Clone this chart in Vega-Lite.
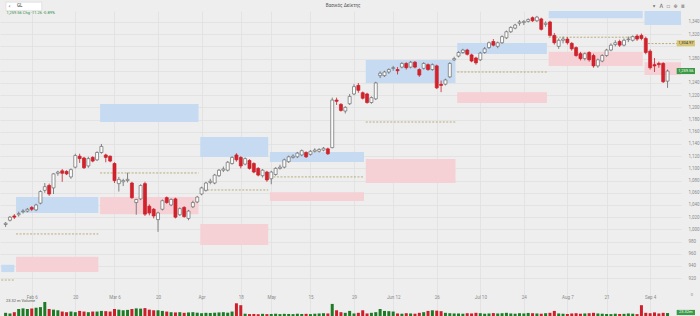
{
  "$schema": "https://vega.github.io/schema/vega-lite/v6.json",
  "width": 681,
  "height": 305,
  "autosize": {"type": "none"},
  "padding": {"left": 0, "top": 11, "right": 19, "bottom": 0},
  "background": "#eeeeee",
  "config": {
    "view": {"stroke": null},
    "axis": {"domain": false, "ticks": false, "tickSize": 0, "labelOverlap": false, "labelFlush": false, "labelBound": false, "labelFont": "Roboto", "labelFontSize": 4.5, "labelColor": "#8a8a8a", "gridColor": "#dedede", "gridWidth": 0.7}
  },
  "datasets": {
    "k": [
      {"i":0,"o":1008,"h":1012,"l":1004,"c":1010,"v":25},
      {"i":1,"o":1015,"h":1022,"l":1013,"c":1020,"v":20},
      {"i":2,"o":1022,"h":1025,"l":1017,"c":1020,"v":30},
      {"i":3,"o":1024,"h":1029,"l":1021,"c":1026,"v":55},
      {"i":4,"o":1029,"h":1033,"l":1026,"c":1030,"v":60},
      {"i":5,"o":1030,"h":1035,"l":1028,"c":1033,"v":55},
      {"i":6,"o":1036,"h":1038,"l":1030,"c":1033,"v":60},
      {"i":7,"o":1032,"h":1042,"l":1030,"c":1040,"v":65},
      {"i":8,"o":1043,"h":1064,"l":1041,"c":1062,"v":70},
      {"i":9,"o":1064,"h":1076,"l":1060,"c":1070,"v":110},
      {"i":10,"o":1072,"h":1075,"l":1055,"c":1058,"v":55},
      {"i":11,"o":1068,"h":1092,"l":1058,"c":1091,"v":50},
      {"i":12,"o":1092,"h":1096,"l":1088,"c":1094,"v":45},
      {"i":13,"o":1096,"h":1099,"l":1078,"c":1092,"v":35},
      {"i":14,"o":1095,"h":1097,"l":1089,"c":1091,"v":30},
      {"i":15,"o":1086,"h":1100,"l":1083,"c":1098,"v":35},
      {"i":16,"o":1102,"h":1124,"l":1100,"c":1121,"v":30},
      {"i":17,"o":1120,"h":1124,"l":1109,"c":1116,"v":40},
      {"i":18,"o":1117,"h":1119,"l":1099,"c":1101,"v":35},
      {"i":19,"o":1104,"h":1119,"l":1101,"c":1116,"v":30},
      {"i":20,"o":1118,"h":1120,"l":1110,"c":1112,"v":35},
      {"i":21,"o":1114,"h":1128,"l":1112,"c":1126,"v":35},
      {"i":22,"o":1126,"h":1140,"l":1124,"c":1136,"v":40},
      {"i":23,"o":1122,"h":1124,"l":1110,"c":1118,"v":38},
      {"i":24,"o":1120,"h":1121,"l":1110,"c":1112,"v":35},
      {"i":25,"o":1108,"h":1110,"l":1076,"c":1080,"v":55},
      {"i":26,"o":1075,"h":1086,"l":1062,"c":1082,"v":50},
      {"i":27,"o":1078,"h":1083,"l":1071,"c":1080,"v":45},
      {"i":28,"o":1080,"h":1093,"l":1077,"c":1082,"v":48},
      {"i":29,"o":1076,"h":1078,"l":1050,"c":1052,"v":55},
      {"i":30,"o":1044,"h":1050,"l":1024,"c":1049,"v":60},
      {"i":31,"o":1050,"h":1074,"l":1048,"c":1072,"v":58},
      {"i":32,"o":1075,"h":1078,"l":1022,"c":1025,"v":62},
      {"i":33,"o":1038,"h":1041,"l":1023,"c":1027,"v":50},
      {"i":34,"o":1033,"h":1035,"l":1018,"c":1022,"v":45},
      {"i":35,"o":1016,"h":1029,"l":996,"c":1027,"v":45},
      {"i":36,"o":1033,"h":1049,"l":1031,"c":1047,"v":40},
      {"i":37,"o":1052,"h":1054,"l":1042,"c":1044,"v":35},
      {"i":38,"o":1040,"h":1051,"l":1038,"c":1049,"v":30},
      {"i":39,"o":1050,"h":1052,"l":1018,"c":1020,"v":28},
      {"i":40,"o":1024,"h":1036,"l":1022,"c":1034,"v":30},
      {"i":41,"o":1036,"h":1038,"l":1019,"c":1021,"v":25},
      {"i":42,"o":1018,"h":1032,"l":1015,"c":1030,"v":28},
      {"i":43,"o":1037,"h":1047,"l":1035,"c":1044,"v":30},
      {"i":44,"o":1045,"h":1055,"l":1043,"c":1053,"v":26},
      {"i":45,"o":1058,"h":1070,"l":1056,"c":1068,"v":22},
      {"i":46,"o":1064,"h":1078,"l":1062,"c":1076,"v":25},
      {"i":47,"o":1077,"h":1083,"l":1074,"c":1079,"v":24},
      {"i":48,"o":1076,"h":1091,"l":1074,"c":1089,"v":26},
      {"i":49,"o":1088,"h":1099,"l":1086,"c":1097,"v":28},
      {"i":50,"o":1097,"h":1103,"l":1094,"c":1099,"v":30},
      {"i":51,"o":1097,"h":1112,"l":1095,"c":1110,"v":26},
      {"i":52,"o":1108,"h":1120,"l":1106,"c":1118,"v":35},
      {"i":53,"o":1122,"h":1125,"l":1111,"c":1114,"v":100},
      {"i":54,"o":1118,"h":1120,"l":1100,"c":1104,"v":85},
      {"i":55,"o":1107,"h":1118,"l":1105,"c":1116,"v":18},
      {"i":56,"o":1113,"h":1115,"l":1098,"c":1100,"v":15},
      {"i":57,"o":1108,"h":1110,"l":1092,"c":1094,"v":16},
      {"i":58,"o":1100,"h":1102,"l":1087,"c":1089,"v":14},
      {"i":59,"o":1088,"h":1099,"l":1085,"c":1097,"v":17},
      {"i":60,"o":1094,"h":1096,"l":1078,"c":1081,"v":15},
      {"i":61,"o":1083,"h":1096,"l":1074,"c":1094,"v":16},
      {"i":62,"o":1090,"h":1102,"l":1088,"c":1100,"v":18},
      {"i":63,"o":1100,"h":1106,"l":1098,"c":1102,"v":15},
      {"i":64,"o":1102,"h":1116,"l":1100,"c":1114,"v":17},
      {"i":65,"o":1111,"h":1121,"l":1109,"c":1119,"v":16},
      {"i":66,"o":1118,"h":1123,"l":1116,"c":1120,"v":15},
      {"i":67,"o":1119,"h":1127,"l":1117,"c":1125,"v":18},
      {"i":68,"o":1122,"h":1131,"l":1120,"c":1129,"v":16},
      {"i":69,"o":1126,"h":1128,"l":1117,"c":1119,"v":17},
      {"i":70,"o":1123,"h":1130,"l":1121,"c":1128,"v":15},
      {"i":71,"o":1128,"h":1133,"l":1126,"c":1130,"v":18},
      {"i":72,"o":1128,"h":1133,"l":1126,"c":1131,"v":20},
      {"i":73,"o":1130,"h":1135,"l":1128,"c":1133,"v":22},
      {"i":74,"o":1132,"h":1134,"l":1122,"c":1124,"v":20},
      {"i":75,"o":1134,"h":1216,"l":1133,"c":1212,"v":95},
      {"i":76,"o":1212,"h":1216,"l":1204,"c":1210,"v":45},
      {"i":77,"o":1205,"h":1207,"l":1193,"c":1195,"v":30},
      {"i":78,"o":1194,"h":1202,"l":1190,"c":1200,"v":25},
      {"i":79,"o":1206,"h":1222,"l":1204,"c":1218,"v":40},
      {"i":80,"o":1222,"h":1238,"l":1220,"c":1234,"v":20},
      {"i":81,"o":1236,"h":1240,"l":1224,"c":1228,"v":25},
      {"i":82,"o":1224,"h":1226,"l":1213,"c":1215,"v":45},
      {"i":83,"o":1222,"h":1224,"l":1206,"c":1208,"v":20},
      {"i":84,"o":1208,"h":1218,"l":1206,"c":1216,"v":25},
      {"i":85,"o":1214,"h":1242,"l":1212,"c":1240,"v":30},
      {"i":86,"o":1252,"h":1259,"l":1248,"c":1256,"v":55},
      {"i":87,"o":1252,"h":1260,"l":1250,"c":1258,"v":40},
      {"i":88,"o":1258,"h":1264,"l":1255,"c":1262,"v":38},
      {"i":89,"o":1264,"h":1268,"l":1260,"c":1265,"v":35},
      {"i":90,"o":1262,"h":1266,"l":1254,"c":1260,"v":20},
      {"i":91,"o":1266,"h":1274,"l":1264,"c":1272,"v":18},
      {"i":92,"o":1272,"h":1274,"l":1262,"c":1265,"v":22},
      {"i":93,"o":1266,"h":1276,"l":1264,"c":1274,"v":20},
      {"i":94,"o":1274,"h":1276,"l":1264,"c":1266,"v":18},
      {"i":95,"o":1262,"h":1264,"l":1250,"c":1253,"v":25},
      {"i":96,"o":1264,"h":1274,"l":1262,"c":1272,"v":30},
      {"i":97,"o":1270,"h":1272,"l":1260,"c":1262,"v":40},
      {"i":98,"o":1262,"h":1272,"l":1260,"c":1270,"v":45},
      {"i":99,"o":1268,"h":1270,"l":1230,"c":1232,"v":42},
      {"i":100,"o":1238,"h":1244,"l":1225,"c":1236,"v":38},
      {"i":101,"o":1238,"h":1247,"l":1236,"c":1245,"v":25},
      {"i":102,"o":1250,"h":1274,"l":1248,"c":1272,"v":22},
      {"i":103,"o":1278,"h":1283,"l":1276,"c":1280,"v":20},
      {"i":104,"o":1284,"h":1292,"l":1282,"c":1290,"v":20},
      {"i":105,"o":1290,"h":1296,"l":1288,"c":1294,"v":18},
      {"i":106,"o":1294,"h":1296,"l":1285,"c":1287,"v":22},
      {"i":107,"o":1286,"h":1288,"l":1274,"c":1276,"v":20},
      {"i":108,"o":1281,"h":1283,"l":1270,"c":1273,"v":25},
      {"i":109,"o":1278,"h":1291,"l":1276,"c":1289,"v":22},
      {"i":110,"o":1290,"h":1299,"l":1288,"c":1296,"v":18},
      {"i":111,"o":1298,"h":1308,"l":1296,"c":1306,"v":20},
      {"i":112,"o":1308,"h":1312,"l":1300,"c":1302,"v":23},
      {"i":113,"o":1300,"h":1308,"l":1297,"c":1306,"v":20},
      {"i":114,"o":1306,"h":1318,"l":1304,"c":1316,"v":22},
      {"i":115,"o":1314,"h":1326,"l":1312,"c":1324,"v":25},
      {"i":116,"o":1324,"h":1333,"l":1322,"c":1331,"v":20},
      {"i":117,"o":1330,"h":1337,"l":1328,"c":1335,"v":18},
      {"i":118,"o":1338,"h":1343,"l":1334,"c":1340,"v":22},
      {"i":119,"o":1339,"h":1343,"l":1335,"c":1341,"v":20},
      {"i":120,"o":1341,"h":1346,"l":1339,"c":1344,"v":24},
      {"i":121,"o":1347,"h":1349,"l":1340,"c":1342,"v":22},
      {"i":122,"o":1342,"h":1350,"l":1340,"c":1348,"v":20},
      {"i":123,"o":1345,"h":1347,"l":1326,"c":1328,"v":18},
      {"i":124,"o":1336,"h":1341,"l":1332,"c":1338,"v":22},
      {"i":125,"o":1340,"h":1342,"l":1316,"c":1318,"v":25},
      {"i":126,"o":1318,"h":1322,"l":1303,"c":1306,"v":40},
      {"i":127,"o":1300,"h":1313,"l":1296,"c":1310,"v":20},
      {"i":128,"o":1310,"h":1316,"l":1305,"c":1312,"v":18},
      {"i":129,"o":1312,"h":1315,"l":1303,"c":1306,"v":16},
      {"i":130,"o":1305,"h":1307,"l":1293,"c":1296,"v":20},
      {"i":131,"o":1298,"h":1300,"l":1283,"c":1285,"v":22},
      {"i":132,"o":1288,"h":1291,"l":1277,"c":1280,"v":18},
      {"i":133,"o":1280,"h":1290,"l":1277,"c":1288,"v":20},
      {"i":134,"o":1290,"h":1292,"l":1275,"c":1278,"v":22},
      {"i":135,"o":1285,"h":1288,"l":1265,"c":1268,"v":25},
      {"i":136,"o":1268,"h":1280,"l":1265,"c":1278,"v":20},
      {"i":137,"o":1276,"h":1287,"l":1274,"c":1285,"v":18},
      {"i":138,"o":1285,"h":1296,"l":1283,"c":1294,"v":16},
      {"i":139,"o":1294,"h":1305,"l":1292,"c":1302,"v":15},
      {"i":140,"o":1303,"h":1310,"l":1300,"c":1306,"v":18},
      {"i":141,"o":1308,"h":1311,"l":1299,"c":1302,"v":16},
      {"i":142,"o":1302,"h":1313,"l":1300,"c":1310,"v":17},
      {"i":143,"o":1311,"h":1316,"l":1307,"c":1312,"v":20},
      {"i":144,"o":1310,"h":1318,"l":1308,"c":1316,"v":18},
      {"i":145,"o":1317,"h":1320,"l":1309,"c":1312,"v":15},
      {"i":146,"o":1318,"h":1321,"l":1310,"c":1313,"v":85},
      {"i":147,"o":1313,"h":1316,"l":1287,"c":1290,"v":25},
      {"i":148,"o":1292,"h":1295,"l":1262,"c":1265,"v":22},
      {"i":149,"o":1270,"h":1281,"l":1258,"c":1268,"v":28},
      {"i":150,"o":1272,"h":1275,"l":1265,"c":1270,"v":20},
      {"i":151,"o":1272,"h":1274,"l":1240,"c":1242,"v":25},
      {"i":152,"o":1243,"h":1262,"l":1232,"c":1259.56,"v":23.32}
    ],
    "z": [
      {"k":"R","x0":-1,"x1":2.0,"t":942,"b":930},
      {"k":"R","x0":2.4,"x1":21.3,"t":1053,"b":1027},
      {"k":"S","x0":2.4,"x1":21.3,"t":955,"b":930},
      {"k":"R","x0":21.7,"x1":44.3,"t":1205.6,"b":1176},
      {"k":"S","x0":21.7,"x1":44.3,"t":1053,"b":1025},
      {"k":"R","x0":44.7,"x1":60.3,"t":1151.5,"b":1118.7},
      {"k":"S","x0":44.7,"x1":60.3,"t":1009,"b":974.5},
      {"k":"R","x0":60.7,"x1":82.3,"t":1127,"b":1110.5},
      {"k":"S","x0":60.7,"x1":82.3,"t":1061,"b":1046.6},
      {"k":"R","x0":82.7,"x1":103.3,"t":1277.7,"b":1240},
      {"k":"S","x0":82.7,"x1":103.3,"t":1115.4,"b":1076},
      {"k":"R","x0":103.7,"x1":124.3,"t":1305.5,"b":1287.5},
      {"k":"S","x0":103.7,"x1":124.3,"t":1225,"b":1207},
      {"k":"R","x0":124.7,"x1":146.3,"t":1370,"b":1346},
      {"k":"S","x0":124.7,"x1":146.3,"t":1291,"b":1268},
      {"k":"R","x0":146.7,"x1":160,"t":1370,"b":1335},
      {"k":"S","x0":146.7,"x1":160,"t":1274,"b":1253}
    ],
    "p": [
      {"x0":-1,"x1":2.0,"p":917},
      {"x0":2.4,"x1":21.3,"p":992.5},
      {"x0":21.7,"x1":44.3,"p":1092.5},
      {"x0":44.7,"x1":60.3,"p":1064.6},
      {"x0":60.7,"x1":82.3,"p":1086},
      {"x0":82.7,"x1":103.3,"p":1176},
      {"x0":103.7,"x1":124.3,"p":1258},
      {"x0":124.7,"x1":146.3,"p":1315},
      {"x0":146.7,"x1":160,"p":1304.6}
    ]
  },
  "layer": [
    {
      "layer": [
        {
          "data": {"name": "z"},
          "mark": {"type": "rect", "clip": true},
          "encoding": {
            "x": {"field": "x0", "type": "quantitative", "title": null,
              "scale": {"domain": [-0.14, 153.94], "nice": false, "zero": false},
              "axis": {"orient": "bottom", "offset": -23, "labelPadding": 1, "tickCount": 40, "labelOverlap": false, "labelFlush": false, "labelBound": false, "grid": true,
                "values": [6,16,25,35,45,54,61,70,80,89,99,109,119,129,138,148],
                "labelExpr": "datum.value==6?'Feb 6':datum.value==16?'20':datum.value==25?'Mar 6':datum.value==35?'20':datum.value==45?'Apr':datum.value==54?'18':datum.value==61?'May':datum.value==70?'15':datum.value==80?'29':datum.value==89?'Jun 12':datum.value==99?'26':datum.value==109?'Jul 10':datum.value==119?'24':datum.value==129?'Aug 7':datum.value==138?'21':'Sep 4'"}},
            "x2": {"field": "x1"},
            "y": {"field": "t", "type": "quantitative", "title": null,
              "scale": {"domain": [858, 1358], "nice": false, "zero": false},
              "axis": {"orient": "right", "labelPadding": 7, "tickCount": 40, "labelOverlap": false, "labelFlush": false, "labelBound": false, "grid": true, "format": ",d",
                "labelExpr": "datum.value==1260||datum.value==1300?'':datum.label",
                "values": [920,940,960,980,1000,1020,1040,1060,1080,1100,1120,1140,1160,1180,1200,1220,1240,1260,1280,1300,1320,1340]}},
            "y2": {"field": "b"},
            "color": {"field": "k", "type": "nominal", "legend": null, "scale": {"domain": ["R", "S"], "range": ["#c6dbf1", "#f5d1d5"]}}
          }
        },
        {
          "data": {"name": "p"},
          "mark": {"type": "rule", "clip": true, "color": "#ab9d5e", "strokeWidth": 0.8, "strokeDash": [2, 1.5]},
          "encoding": {
            "x": {"field": "x0", "type": "quantitative", "title": null},
            "x2": {"field": "x1"},
            "y": {"field": "p", "type": "quantitative", "title": null}
          }
        },
        {
          "data": {"name": "k"},
          "mark": {"type": "rule", "clip": true, "strokeWidth": 0.8},
          "encoding": {
            "x": {"field": "i", "type": "quantitative", "title": null},
            "y": {"field": "l", "type": "quantitative", "title": null},
            "y2": {"field": "h"},
            "color": {"condition": {"test": "datum.c >= datum.o", "value": "#666666"}, "value": "#c81e28"}
          }
        },
        {
          "data": {"name": "k"},
          "mark": {"type": "bar", "clip": true, "size": 3, "strokeWidth": 0.7},
          "encoding": {
            "x": {"field": "i", "type": "quantitative", "title": null},
            "y": {"field": "o", "type": "quantitative", "title": null},
            "y2": {"field": "c"},
            "fill": {"condition": {"test": "datum.c >= datum.o", "value": "#fbfbfb"}, "value": "#d3222b"},
            "stroke": {"condition": {"test": "datum.c >= datum.o", "value": "#6a6a6a"}, "value": "#c81e28"}
          }
        },
        {
          "data": {"values": [{"t": "1,259.56 Chg -11.26 -0.89%"}]},
          "mark": {"type": "text", "align": "left", "baseline": "middle", "dx": 1.5, "fontSize": 4, "font": "Roboto", "color": "#2f8a3c"},
          "encoding": {"x": {"datum": -0.14}, "y": {"datum": 1354.5}, "text": {"field": "t"}}
        },
        {
          "data": {"values": [{"t": "23.32 m Volume"}]},
          "mark": {"type": "text", "align": "left", "baseline": "middle", "dx": 1, "fontSize": 4, "font": "Roboto", "color": "#555555"},
          "encoding": {"x": {"datum": -0.14}, "y": {"datum": 882}, "text": {"field": "t"}}
        },
        {
          "data": {"values": [{"t": "Βασικός Δείκτης"}]},
          "mark": {"type": "text", "align": "center", "baseline": "middle", "fontSize": 4.5, "font": "Roboto", "color": "#555555"},
          "encoding": {"x": {"datum": 77.5}, "y": {"datum": 1365.5}, "text": {"field": "t"}}
        },
        {
          "data": {"values": [{"t": "x"}]},
          "mark": {"type": "rect", "fill": "#ffffff", "stroke": "#cfcfcf", "strokeWidth": 0.5, "clip": false},
          "encoding": {"x": {"datum": 0.1}, "x2": {"datum": 8.3}, "y": {"datum": 1372.5}, "y2": {"datum": 1358.5}}
        },
        {
          "data": {"values": [{"t": "‹"}]},
          "mark": {"type": "text", "align": "center", "baseline": "middle", "fontSize": 6, "font": "DejaVu Sans", "color": "#444444"},
          "encoding": {"x": {"datum": 0.9}, "y": {"datum": 1365.5}, "text": {"field": "t"}}
        },
        {
          "data": {"values": [{"t": "GL"}]},
          "mark": {"type": "text", "align": "left", "baseline": "middle", "fontSize": 4.5, "font": "Roboto", "color": "#333333"},
          "encoding": {"x": {"datum": 2.6}, "y": {"datum": 1365.5}, "text": {"field": "t"}}
        },
        {
          "data": {"values": [{"t": "▾  A  ☐  ⊕  ≡"}]},
          "mark": {"type": "text", "align": "center", "baseline": "middle", "fontSize": 6, "font": "DejaVu Sans Mono", "color": "#666666"},
          "encoding": {"x": {"datum": 152.2}, "y": {"datum": 1365.5}, "text": {"field": "t"}}
        },
        {
          "data": {"values": [{"t": "a"}]},
          "mark": {"type": "rect", "fill": "#d8c677", "clip": false},
          "encoding": {"x": {"datum": 154.1}, "x2": {"datum": 158.3}, "y": {"datum": 1310}, "y2": {"datum": 1300}}
        },
        {
          "data": {"values": [{"t": "1,304.97"}]},
          "mark": {"type": "text", "align": "center", "baseline": "middle", "fontSize": 4, "font": "Roboto", "color": "#333333"},
          "encoding": {"x": {"datum": 156.2}, "y": {"datum": 1305}, "text": {"field": "t"}}
        },
        {
          "data": {"values": [{"t": "a"}]},
          "mark": {"type": "rect", "fill": "#3b9a46", "clip": false},
          "encoding": {"x": {"datum": 154.1}, "x2": {"datum": 158.3}, "y": {"datum": 1264.6}, "y2": {"datum": 1254.6}}
        },
        {
          "data": {"values": [{"t": "1,259.56"}]},
          "mark": {"type": "text", "align": "center", "baseline": "middle", "fontSize": 4, "font": "Roboto", "color": "#ffffff"},
          "encoding": {"x": {"datum": 156.2}, "y": {"datum": 1259.6}, "text": {"field": "t"}}
        },
        {
          "data": {"values": [{"t": "a"}]},
          "mark": {"type": "rect", "fill": "#3b9a46", "clip": false},
          "encoding": {"x": {"datum": 154.1}, "x2": {"datum": 158.3}, "y": {"datum": 868}, "y2": {"datum": 859.5}}
        },
        {
          "data": {"values": [{"t": "23.32m"}]},
          "mark": {"type": "text", "align": "center", "baseline": "middle", "fontSize": 4, "font": "Roboto", "color": "#ffffff"},
          "encoding": {"x": {"datum": 156.2}, "y": {"datum": 863.8}, "text": {"field": "t"}}
        },
        {
          "data": {"values": [{"t": "0"}]},
          "mark": {"type": "text", "align": "center", "baseline": "middle", "fontSize": 4, "font": "Roboto", "color": "#8a8a8a"},
          "encoding": {"x": {"datum": 157.6}, "y": {"datum": 892.5}, "text": {"field": "t"}}
        }
      ]
    },
    {
      "data": {"name": "k"},
      "mark": {"type": "bar", "size": 3},
      "encoding": {
        "x": {"field": "i", "type": "quantitative", "title": null},
        "y": {"field": "v", "type": "quantitative", "title": null, "axis": null, "scale": {"domain": [0, 2400], "nice": false}},
        "color": {"condition": {"test": "datum.c >= datum.o", "value": "#1f7a26"}, "value": "#cc1f2a"}
      }
    }
  ],
  "resolve": {"scale": {"y": "independent"}}
}
